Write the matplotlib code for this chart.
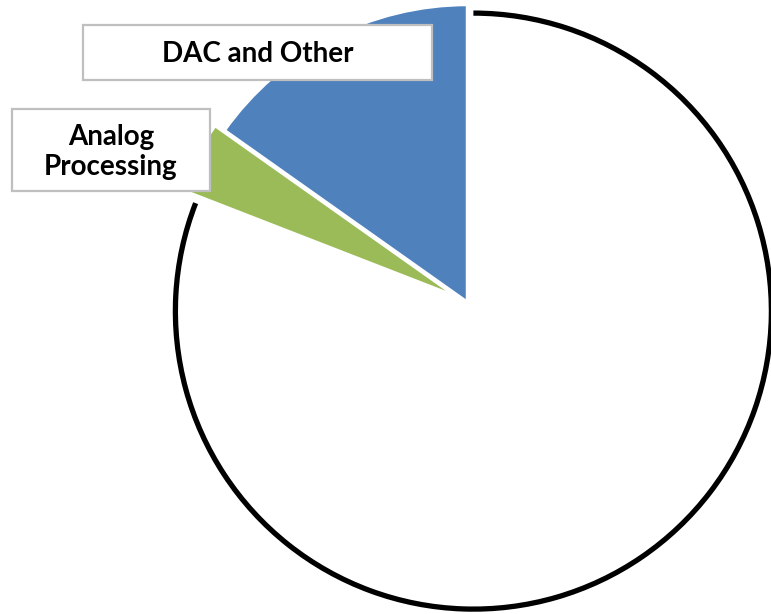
import matplotlib
matplotlib.use("Agg")
import matplotlib.pyplot as plt
from matplotlib.patches import Rectangle, Arc

# Data
categories = ["DAC and Other", "Analog Processing", "Other"]
values = [15.2, 3.9, 80.9]
colors = ["#4F81BD", "#9BBB59", "#FFFFFF"]
explode = [0.0, 0.035, 0.035]

W, H = 771, 614
fig = plt.figure(figsize=(W / 100, H / 100), dpi=100)
ax = fig.add_axes([0, 0, 1, 1])

R_PX = 298.0
CX, CY = 467.5, 302.5

wedges, _ = ax.pie(values, colors=colors, startangle=90, counterclock=True,
                   explode=explode, radius=1.0,
                   wedgeprops=dict(edgecolor="white", linewidth=2.5))

# white slice: outline only its arc in black
w = wedges[2]
w.set_edgecolor("none")
arc = Arc(w.center, 2 * w.r, 2 * w.r, theta1=w.theta1, theta2=w.theta2,
          color="black", linewidth=3.8, zorder=3)
ax.add_patch(arc)

ax.set_xlim(-CX / R_PX, (W - CX) / R_PX)
ax.set_ylim(-(H - CY) / R_PX, CY / R_PX)
ax.set_aspect("auto")
ax.axis("off")

def px_box(x0, y0, x1, y1):
    rect = Rectangle((x0 / W, 1 - y1 / H), (x1 - x0) / W, (y1 - y0) / H,
                     transform=fig.transFigure, facecolor="white",
                     edgecolor="#BFBFBF", linewidth=1.6, zorder=5)
    fig.add_artist(rect)

font = dict(family=["Lato", "DejaVu Sans"], fontweight="bold", fontsize=20,
            color="black", ha="center", va="center", zorder=6)

px_box(83, 25, 432, 80)
fig.text(258 / W, 1 - 54 / H, categories[0], **font)

px_box(12, 109, 210, 191)
fig.text(111 / W, 1 - 152 / H, "Analog\nProcessing", linespacing=1.15, **font)

fig.savefig("out.png", dpi=100)
